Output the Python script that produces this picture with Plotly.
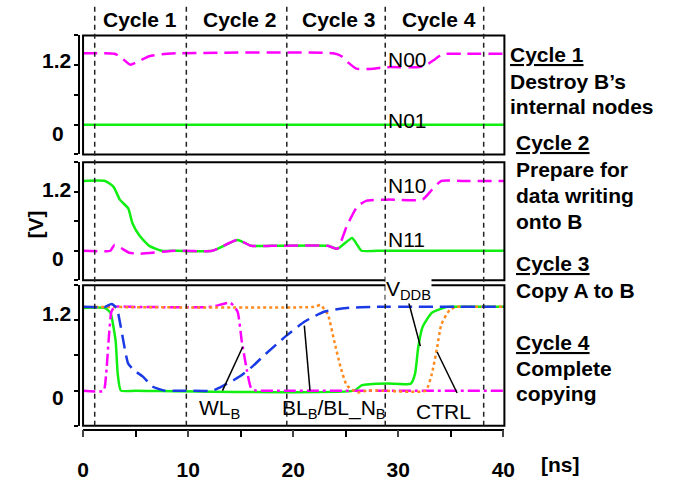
import plotly.graph_objects as go

# ---------------- data (time in ns, voltage in V) ----------------
# Panel 1
n00_t = [0, 3.0, 3.6, 4.5, 5.4, 6.3, 7.5, 9.0, 23.8, 24.6, 25.3, 26.0, 27.0, 29.0, 32.0, 32.8, 33.5, 34.2, 36.0, 40.1]
n00_v = [1.44, 1.43, 1.36, 1.21, 1.29, 1.38, 1.42, 1.44, 1.44, 1.38, 1.24, 1.13, 1.12, 1.16, 1.16, 1.22, 1.32, 1.42, 1.43, 1.43]
n01_t = [0, 10, 20, 30, 40.1]
n01_v = [0.0, 0.0, 0.0, 0.0, 0.0]

# Panel 2
n11_t = [0, 2.1, 2.9, 3.5, 4.3, 4.7, 5.4, 6.3, 7.5, 9.0, 12.3, 14.7, 16.0, 18.0, 23.3, 24.2, 25.6, 26.0, 26.5, 28.0, 40.1]
n11_v = [1.42, 1.42, 1.30, 1.04, 0.86, 0.56, 0.30, 0.10, 0.0, 0.0, 0.0, 0.22, 0.10, 0.10, 0.10, 0.04, 0.26, 0.15, 0.0, 0.0, 0.0]
n10_t = [0, 2.6, 3.0, 4.4, 5.4, 8.7, 12.3, 14.7, 16.0, 18.0, 23.3, 24.2, 25.1, 26.1, 27.0, 29.0, 32.3, 33.2, 34.1, 36.0, 40.1]
n10_v = [0.0, 0.0, 0.12, -0.04, -0.06, 0.0, 0.0, 0.22, 0.10, 0.10, 0.10, 0.04, 0.50, 0.90, 1.02, 1.04, 1.04, 1.24, 1.42, 1.42, 1.42]

# Panel 3
bl_t = [0, 2.1, 2.7, 3.2, 3.6, 4.3, 4.9, 5.7, 6.6, 7.8, 9.5, 12.3, 13.4, 14.9, 16.1, 17.4, 19.3, 21.1, 23.0, 25.1, 27.6, 40.1]
bl_v = [1.43, 1.43, 1.48, 1.41, 1.08, 0.46, 0.34, 0.24, 0.07, 0.0, 0.0, 0.0, 0.09, 0.24, 0.41, 0.63, 0.93, 1.18, 1.35, 1.41, 1.43, 1.43]
wl_t = [0, 1.95, 2.2, 2.7, 3.0, 4.5, 12.2, 14.0, 14.7, 15.1, 15.6, 16.0, 16.5, 18.5, 40.1]
wl_v = [0.0, 0.0, 0.29, 1.35, 1.43, 1.43, 1.43, 1.50, 1.35, 0.85, 0.34, 0.04, 0.0, 0.0, 0.0]
vddb_t = [0, 2.1, 2.6, 3.1, 3.3, 3.6, 5.0, 25.8, 26.5, 27.3, 29.0, 31.2, 31.6, 31.9, 32.3, 33.2, 34.7, 36.5, 40.1]
vddb_v = [1.41, 1.41, 1.33, 0.85, 0.29, 0.0, 0.0, 0.0, 0.09, 0.11, 0.12, 0.12, 0.29, 0.74, 1.08, 1.33, 1.43, 1.43, 1.43]
ctrl_t = [0, 22.0, 22.6, 23.3, 23.9, 24.5, 25.1, 26.1, 27.0, 28.5, 32.6, 33.2, 33.7, 34.1, 34.9, 35.6, 37.0, 40.1]
ctrl_v = [1.43, 1.43, 1.46, 1.30, 0.85, 0.41, 0.09, -0.03, 0.0, 0.0, 0.0, 0.29, 0.74, 1.13, 1.38, 1.43, 1.43, 1.43]

cycle_bounds = [1.11, 9.83, 19.39, 28.76, 38.13]
cycle_labels = ["Cycle 1", "Cycle 2", "Cycle 3", "Cycle 4"]
x_tickvals = [0, 10, 20, 30, 40]
x_minor_ticks = [5, 15, 25, 35]
y_tickvals = [-0.6, 0, 0.6, 1.2, 1.8]

# ---------------- styling helpers ----------------
W, H = 689, 481
def px(x):
    return x / W
def py(y):
    return 1 - y / H

MAG = "#FF00FF"
GRN = "#11EE11"
BLU = "#1A3AE6"
ORG = "#FF8A1E"
FONT = "Liberation Sans, Arial, sans-serif"
FS = 21

fig = go.Figure()
lw = 2.5
sm = 0.5
fig.add_trace(go.Scatter(x=n01_t, y=n01_v, mode="lines", line=dict(color=GRN, width=lw), xaxis="x", yaxis="y"))
fig.add_trace(go.Scatter(x=n00_t, y=n00_v, mode="lines", line=dict(color=MAG, width=lw, dash="14px,7px", shape="spline", smoothing=sm), xaxis="x", yaxis="y"))
fig.add_trace(go.Scatter(x=n11_t, y=n11_v, mode="lines", line=dict(color=GRN, width=lw, shape="spline", smoothing=sm), xaxis="x2", yaxis="y2"))
fig.add_trace(go.Scatter(x=n10_t, y=n10_v, mode="lines", line=dict(color=MAG, width=lw, dash="14px,7px", shape="spline", smoothing=sm), xaxis="x2", yaxis="y2"))
fig.add_trace(go.Scatter(x=vddb_t, y=vddb_v, mode="lines", line=dict(color=GRN, width=lw, shape="spline", smoothing=sm), xaxis="x3", yaxis="y3"))
fig.add_trace(go.Scatter(x=wl_t, y=wl_v, mode="lines", line=dict(color=MAG, width=lw, dash="12px,4px,3px,4px", shape="spline", smoothing=sm), xaxis="x3", yaxis="y3"))
fig.add_trace(go.Scatter(x=ctrl_t, y=ctrl_v, mode="lines", line=dict(color=ORG, width=lw, dash="3px,3px", shape="spline", smoothing=sm), xaxis="x3", yaxis="y3"))
fig.add_trace(go.Scatter(x=bl_t, y=bl_v, mode="lines", line=dict(color=BLU, width=lw, dash="14px,7px", shape="spline", smoothing=sm), xaxis="x3", yaxis="y3"))

xdom = [px(79), px(511)]
ydoms = [[py(157), py(36)], [py(285), py(165)], [py(433), py(290)]]

common_y = dict(range=[-0.6, 1.8], anchor="free", position=px(75), showline=True, linecolor="black",
                linewidth=1.5, ticks="outside", ticklen=4, tickwidth=1.5, tickcolor="black",
                tickvals=y_tickvals, showticklabels=False, showgrid=False, zeroline=False, fixedrange=True)
hidden_x = dict(range=[0, 40.1], domain=xdom, showline=False, showticklabels=False, ticks="",
                showgrid=False, zeroline=False)

layout = dict(
    width=W, height=H, margin=dict(l=0, r=0, t=0, b=0),
    paper_bgcolor="white", plot_bgcolor="white", showlegend=False,
    font=dict(family=FONT, color="black", size=FS),
    xaxis=dict(hidden_x, anchor="y"),
    xaxis2=dict(hidden_x, anchor="y2"),
    xaxis3=dict(range=[0, 40.1], domain=xdom, anchor="free", position=py(437), showline=True,
                linecolor="black", linewidth=1.5, ticks="outside", ticklen=7, tickwidth=1.5,
                tickvals=x_tickvals, ticklabelstandoff=14,
                minor=dict(tickvals=x_minor_ticks, ticks="outside", ticklen=7, tickwidth=1.5, tickcolor="black"),
                tickfont=dict(family=FONT, size=FS, weight="bold"),
                showgrid=False, zeroline=False),
    yaxis=dict(common_y, domain=ydoms[0]),
    yaxis2=dict(common_y, domain=ydoms[1]),
    yaxis3=dict(common_y, domain=ydoms[2]),
)
fig.update_layout(**layout)

shapes = []
for i, (xr, yr) in enumerate([("x", "y"), ("x2", "y2"), ("x3", "y3")]):
    shapes.append(dict(type="rect", xref=xr + " domain", yref=yr + " domain", x0=0, x1=1, y0=0, y1=1,
                       line=dict(color="black", width=2)))
for b in cycle_bounds:
    shapes.append(dict(type="line", xref="x3", yref="paper", x0=b, x1=b, y0=py(433), y1=py(5),
                       line=dict(color="#222", width=1.5, dash="5px,4px")))
# leader lines (bottom panel, data coordinates)
leaders = [((13.27, 0.0), (15.2, 0.75)), ((21.6, 0.0), (21.06, 1.11)),
           ((31.0, 1.50), (32.1, 0.76)), ((35.6, -0.04), (33.7, 0.66))]
for (a, b) in leaders:
    shapes.append(dict(type="line", xref="x3", yref="y3", x0=a[0], y0=a[1], x1=b[0], y1=b[1],
                       line=dict(color="black", width=1.5)))
fig.update_layout(shapes=shapes)

ann = []
def txt(x, y, s, bold=False, size=FS, xanchor="left", under=False, bg=None, angle=0):
    f = dict(family=FONT, size=size, color="black")
    if bold:
        f["weight"] = "bold"
    if under:
        f["lineposition"] = "under"
    d = dict(x=px(x), y=py(y), xref="paper", yref="paper", text=s, showarrow=False,
             xanchor=xanchor, yanchor="middle", font=f, textangle=angle, borderpad=0)
    if bg:
        d["bgcolor"] = bg
    ann.append(d)

# top cycle labels
for lab, cx in zip(cycle_labels, [137, 240, 341, 444]):
    txt(cx, 20, lab, bold=True, xanchor="center")
# y tick labels
for (yl, y0) in [(61, 135), (192, 262), (318, 403)]:
    txt(52, yl + 1, "1.2", bold=True, xanchor="center")
    txt(53, y0 + 1, "0", bold=True, xanchor="center")
txt(30, 228, "[V]", bold=True, xanchor="center", angle=-90)
txt(569, 472, "[ns]", bold=True, xanchor="center")
# node labels
txt(391, 61, "N00")
txt(391, 123, "N01")
txt(391, 189, "N10")
txt(391, 244, "N11")
txt(389, 295, "V<sub>DDB</sub>", bg="white")
txt(197, 416, "WL<sub>B</sub>")
txt(282, 416, "BL<sub>B</sub>/BL_N<sub>B</sub>")
txt(419, 418, "CTRL")
# right side descriptions
txt(516, 55, "Cycle 1", bold=True, under=True)
txt(516, 83, "Destroy B’s", bold=True)
txt(516, 108, "internal nodes", bold=True)
txt(522, 145, "Cycle 2", bold=True, under=True)
txt(522, 172, "Prepare for", bold=True)
txt(522, 199, "data writing", bold=True)
txt(522, 225, "onto B", bold=True)
txt(522, 268, "Cycle 3", bold=True, under=True)
txt(522, 295, "Copy A to B", bold=True)
txt(522, 348, "Cycle 4", bold=True, under=True)
txt(522, 375, "Complete", bold=True)
txt(522, 400, "copying", bold=True)
fig.update_layout(annotations=ann)

fig.write_html("out.html")
